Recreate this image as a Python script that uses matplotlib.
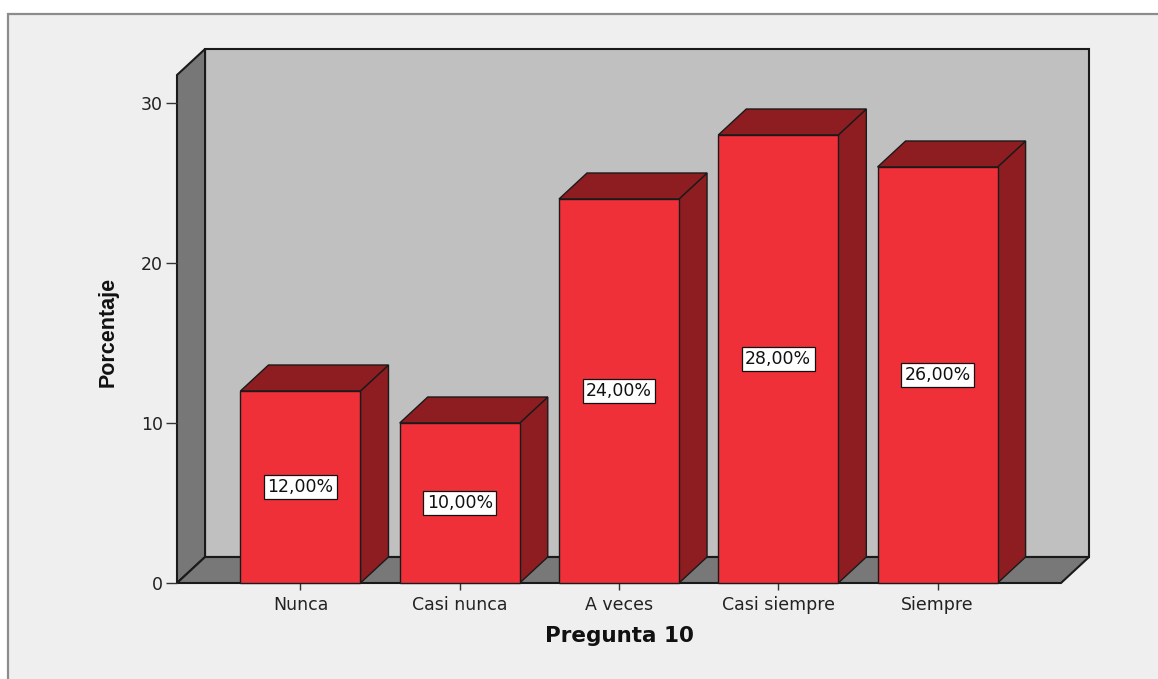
import matplotlib
matplotlib.use("Agg")
import matplotlib.pyplot as plt
from matplotlib.patches import Polygon, Rectangle

# Survey answers for question 10 (percent of respondents)
categories = ["Nunca", "Casi nunca", "A veces", "Casi siempre", "Siempre"]
percent = [12.0, 10.0, 24.0, 28.0, 26.0]
y_ticks = [0, 10, 20, 30]
x_title = "Pregunta 10"
y_title = "Porcentaje"

W, H = 1158, 679
fig = plt.figure(figsize=(W / 100, H / 100), dpi=100, facecolor="white")

# light grey chart panel with a thin border
fig.patches.append(Rectangle((8 / W, -0.05), 1.1, (H - 14) / H + 0.05,
                             transform=fig.transFigure, facecolor="#efefef",
                             edgecolor="#8c8c8c", linewidth=1.6, zorder=-10))

ax = fig.add_axes([177 / W, (H - 583) / H, 884 / W, 508 / H])
x0, x1 = -0.775, 4.775
ytop = 31.75
ax.set_xlim(x0, x1)
ax.set_ylim(0, ytop)
ax.patch.set_visible(False)
for s in ax.spines.values():
    s.set_visible(False)

# depth of the pseudo-3D box, in data units
DX, DY = 0.176, 1.625
edge = "#1a1a1a"

def face(pts, color, lw=1.0, z=1):
    ax.add_patch(Polygon(pts, closed=True, facecolor=color, edgecolor=edge,
                         linewidth=lw, joinstyle="miter", clip_on=False, zorder=z))

# back wall, side wall and floor
face([(x0 + DX, DY), (x1 + DX, DY), (x1 + DX, ytop + DY), (x0 + DX, ytop + DY)],
     "#c0c0c0", lw=1.5)
face([(x0, 0), (x0, ytop), (x0 + DX, ytop + DY), (x0 + DX, DY)], "#777777", lw=1.5)
face([(x0, 0), (x1, 0), (x1 + DX, DY), (x0 + DX, DY)], "#787878", lw=1.5)

# bars
bw = 0.7535
front_c = "#ef3039"
dark_c = "#8e1d22"
for i, v in enumerate(percent):
    xl, xr = i - bw / 2, i + bw / 2
    face([(xr, 0), (xr, v), (xr + DX, v + DY), (xr + DX, DY)], dark_c, z=2)
    face([(xl, v), (xr, v), (xr + DX, v + DY), (xl + DX, v + DY)], dark_c, z=2)
    face([(xl, 0), (xr, 0), (xr, v), (xl, v)], front_c, z=3)
    label = f"{v:.2f}%".replace(".", ",")
    ax.text(i, v / 2, label, ha="center", va="center", fontsize=12.5,
            color="#111111", zorder=5,
            bbox=dict(boxstyle="square,pad=0.2", facecolor="white",
                      edgecolor="#111111", linewidth=0.9))

ax.set_xticks(range(len(categories)), categories)
ax.set_yticks(y_ticks, [str(t) for t in y_ticks])
ax.tick_params(axis="x", length=5, width=1.0, color="#333333", pad=4,
               labelsize=12.5, labelcolor="#222222")
ax.tick_params(axis="y", length=8, width=1.0, color="#333333", pad=2,
               labelsize=12.5, labelcolor="#222222")

fig.text(619 / W, 1 - 636 / H, x_title, ha="center", va="center",
         fontsize=15.5, fontweight="bold", color="#111111")
fig.text(108 / W, 1 - 332 / H, y_title, ha="center", va="center", rotation=90,
         fontsize=15.5, fontweight="bold", color="#111111",
         family=["Liberation Sans Narrow", "Liberation Sans", "DejaVu Sans"])

fig.savefig("out.png", dpi=100, facecolor="white")
